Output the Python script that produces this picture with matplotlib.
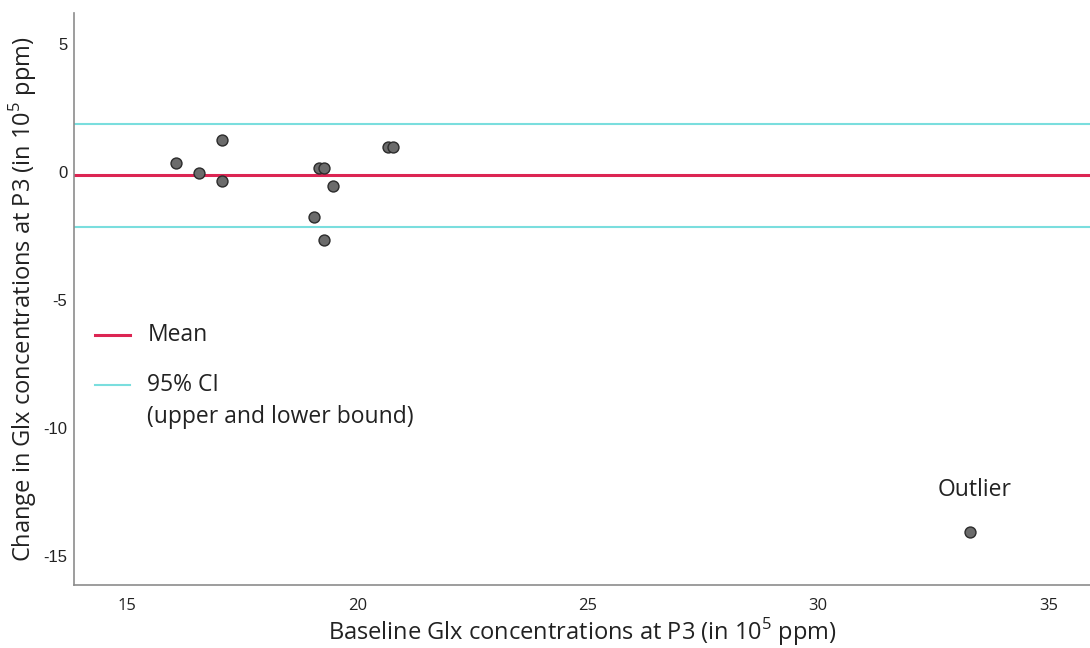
import matplotlib
matplotlib.use("Agg")
import matplotlib.pyplot as plt
from matplotlib.lines import Line2D

# ── Data ──────────────────────────────────────────────────────────────────────
baseline = [16.06, 16.56, 17.07, 17.07, 19.16, 19.27, 19.46, 19.06, 19.27,
            20.67, 20.78, 33.29]
change = [0.36, -0.03, 1.26, -0.34, 0.16, 0.16, -0.55, -1.75, -2.66,
          0.98, 0.98, -14.05]

mean_diff = -0.12
ci_upper = 1.88
ci_lower = -2.15

x_ticks = [15, 20, 25, 30, 35]
y_ticks = [5, 0, -5, -10, -15]

# ── Colours ───────────────────────────────────────────────────────────────────
C_MEAN = "#dc2553"
C_CI = "#7adede"
C_PT = "#6b6b6b"
C_SPINE = "#8c8c8c"
TXT = "#222222"

plt.rcParams["font.family"] = ["Open Sans", "DejaVu Sans"]
plt.rcParams["axes.unicode_minus"] = False
plt.rcParams["mathtext.fontset"] = "custom"
plt.rcParams["mathtext.rm"] = "Open Sans"

fig = plt.figure(figsize=(10.9, 6.48), dpi=100)
ax = fig.add_axes([0.068, 0.097, 0.932, 0.883])

ax.axhline(ci_upper, color=C_CI, lw=1.5, zorder=1)
ax.axhline(ci_lower, color=C_CI, lw=1.5, zorder=1)
ax.axhline(mean_diff, color=C_MEAN, lw=2.2, zorder=2)

ax.scatter(baseline, change, s=62, color=C_PT, edgecolor="#2b2b2b",
           linewidth=1.0, zorder=3)

ax.annotate("Outlier", xy=(baseline[-1], change[-1]), xytext=(3.6, 30),
            textcoords="offset points", ha="center", va="center",
            fontsize=16.5, color=TXT)

ax.set_xlim(13.85, 35.9)
ax.set_ylim(-16.13, 6.2)
ax.set_xticks(x_ticks)
ax.set_yticks(y_ticks)
ax.tick_params(axis="x", length=0, labelsize=12, colors=TXT, pad=9)
ax.tick_params(axis="y", length=0, labelsize=12, colors=TXT, pad=5)
for lbl in ax.get_yticklabels():
    lbl.set_family(["Liberation Sans", "DejaVu Sans"])

for s in ("top", "right"):
    ax.spines[s].set_visible(False)
for s in ("left", "bottom"):
    ax.spines[s].set_color(C_SPINE)
    ax.spines[s].set_linewidth(1.2)

ax.set_xlabel("Baseline Glx concentrations at P3 (in 10$^{5}$ ppm)",
              fontsize=17, color=TXT, labelpad=2)
ax.set_ylabel("Change in Glx concentrations at P3 (in 10$^{5}$ ppm)",
              fontsize=17, color=TXT, labelpad=3)

# ── Manual legend ─────────────────────────────────────────────────────────────
ax.add_line(Line2D([0.021, 0.055], [0.437, 0.437], transform=ax.transAxes,
                   color=C_MEAN, lw=2.2))
ax.text(0.072, 0.437, "Mean", transform=ax.transAxes, fontsize=16.5,
        color=TXT, va="center")
ax.add_line(Line2D([0.021, 0.055], [0.350, 0.350], transform=ax.transAxes,
                   color=C_CI, lw=1.5))
ax.text(0.072, 0.350, "95% CI", transform=ax.transAxes, fontsize=16.5,
        color=TXT, va="center")
ax.text(0.072, 0.294, "(upper and lower bound)", transform=ax.transAxes,
        fontsize=16.5, color=TXT, va="center")

fig.savefig("out.png", dpi=100, facecolor="white")
